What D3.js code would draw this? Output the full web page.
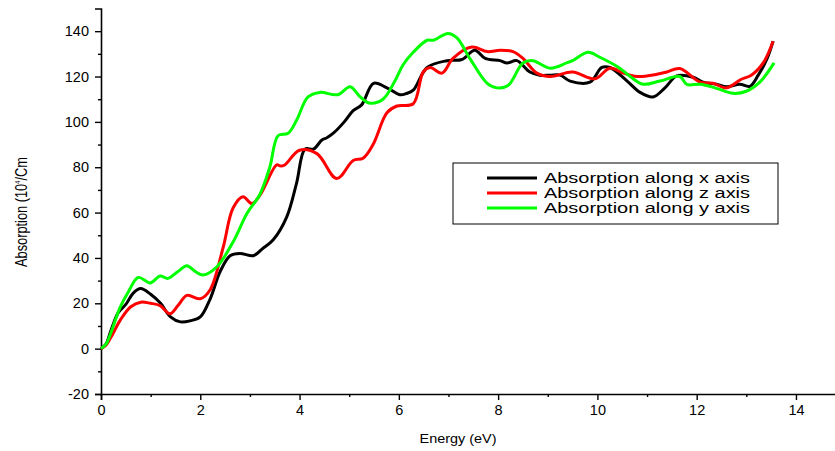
<!DOCTYPE html>
<html><head><meta charset="utf-8">
<script src="https://cdn.jsdelivr.net/npm/d3@7"></script>
<style>body{margin:0;background:#fff}svg{display:block}text{font-family:Arial,"Liberation Sans",sans-serif}</style>
</head><body>
<svg id="c" width="835" height="451"></svg>
<script>
const xAxisEnergy = [[0,0],[0.1,2],[0.2,8],[0.35,16],[0.5,19.5],[0.65,24.5],[0.8,26.5],[1.0,24],[1.2,20],[1.4,14],[1.6,11.8],[1.8,12.3],[2.0,14],[2.2,22],[2.4,34],[2.6,41],[2.8,42],[3.07,41],[3.25,44],[3.47,48],[3.74,58],[3.94,73],[4.11,88],[4.28,88],[4.45,92],[4.55,93],[4.68,95],[4.9,100],[5.08,105],[5.25,107.5],[5.49,117],[5.76,115],[6.02,112],[6.15,112.5],[6.29,114],[6.57,124],[6.97,127],[7.27,127.5],[7.53,131.6],[7.74,128],[8.04,127],[8.18,126],[8.38,127],[8.64,122],[8.84,120.6],[9.05,120.6],[9.25,120.6],[9.45,118],[9.85,117.5],[10.09,124],[10.25,124],[10.6,118],[10.86,113],[11.12,111],[11.36,115],[11.6,120.3],[11.93,119.7],[12.13,117.5],[12.4,116.6],[12.6,115.5],[12.87,116.6],[13.07,115.7],[13.24,120.6],[13.42,128],[13.54,135.6]];
const zAxisEnergy = [[0,0],[0.1,1.5],[0.2,5],[0.4,13],[0.6,18.5],[0.8,20.5],[1.0,20],[1.19,19],[1.39,15.4],[1.55,19],[1.73,23.5],[2.0,22],[2.2,26],[2.46,44.6],[2.66,62],[2.86,67],[3.04,64],[3.2,67.6],[3.54,81],[3.62,80.5],[3.7,81],[4.0,87.5],[4.35,86],[4.75,75],[5.08,83],[5.28,84],[5.48,90],[5.76,104],[5.96,107],[6.29,108],[6.49,122],[6.63,124],[6.87,121.5],[7.09,128],[7.47,133],[7.78,131],[8.04,131.6],[8.3,131],[8.5,128],[8.78,121.5],[9.05,120],[9.5,122],[9.95,119],[10.25,123.7],[10.52,121.5],[10.8,120],[11.2,121],[11.4,122],[11.66,123.5],[12.07,117.5],[12.33,117],[12.6,115],[12.9,118.8],[13.1,120.6],[13.34,126],[13.54,135.6]];
const yAxisEnergy = [[0,0],[0.1,2],[0.2,7],[0.38,18],[0.55,25],[0.75,31.4],[0.99,29],[1.19,32],[1.35,31],[1.55,34],[1.73,36.6],[1.9,34],[2.06,32.5],[2.33,36],[2.66,47],[2.94,59.6],[3.2,68],[3.4,80],[3.57,94],[3.77,95],[3.94,100.7],[4.17,111],[4.41,113],[4.77,112],[5.02,115.5],[5.2,111.5],[5.4,108.3],[5.68,110],[5.92,118],[6.08,125],[6.29,130.7],[6.57,136],[6.69,136],[6.99,139],[7.17,137],[7.43,128],[7.78,117],[7.98,115],[8.2,116],[8.5,126],[8.7,127],[9.05,123.7],[9.38,126],[9.5,127],[9.81,130.7],[10.05,128.5],[10.45,123.7],[10.66,120],[10.92,116.6],[11.26,118],[11.66,120],[11.8,116.5],[12.07,116.6],[12.4,114.8],[12.73,112.6],[13.0,113.5],[13.27,117.5],[13.56,126]];
const seriesNames = ["Absorption along x axis","Absorption along z axis","Absorption along y axis"];
const seriesColors = ["#000000","#ff0000","#00ff00"];
const xTicks = [0,2,4,6,8,10,12,14];
const yTicks = [-20,0,20,40,60,80,100,120,140];

const svg = d3.select("#c");
const x = d3.scaleLinear().domain([0,15]).range([101, 101+15*49.64]);
const y = d3.scaleLinear().domain([-20,150]).range([394, 8.5]);
const fmt = d => String(d);

// y axis
const yAx = svg.append("g").attr("transform","translate(101,0)")
  .call(d3.axisLeft(y).tickValues(yTicks).tickSize(6).tickPadding(6).tickFormat(fmt));
yAx.selectAll(".tick text").attr("font-size",14.5).attr("fill","#000");
svg.append("g").attr("transform","translate(101,0)")
  .call(d3.axisLeft(y).tickValues(d3.range(-10,150,20)).tickSize(3).tickFormat(""))
  .select(".domain").remove();
// x axis
const xAx = svg.append("g").attr("transform","translate(0,394)")
  .call(d3.axisBottom(x).tickValues(xTicks).tickSize(6).tickPadding(5).tickFormat(fmt));
xAx.selectAll(".tick text").attr("font-size",14.5).attr("fill","#000");
svg.append("g").attr("transform","translate(0,394)")
  .call(d3.axisBottom(x).tickValues(d3.range(1,15,2)).tickSize(3).tickFormat(""))
  .select(".domain").remove();
svg.selectAll(".domain").attr("stroke","#000").attr("stroke-width",1.6);
svg.selectAll(".tick line").attr("stroke","#000").attr("stroke-width",1.4);

// lines
const line = d3.line().x(d=>x(d[0])).y(d=>y(d[1])).curve(d3.curveCatmullRom.alpha(0.5));
[xAxisEnergy,zAxisEnergy,yAxisEnergy].forEach((s,i)=>{
  svg.append("path").datum(s).attr("d",line).attr("fill","none")
    .attr("stroke",seriesColors[i]).attr("stroke-width",3).attr("stroke-linejoin","round");
});

// legend
const lg = svg.append("g");
lg.append("rect").attr("x",453).attr("y",163).attr("width",325).attr("height",61)
  .attr("fill","#fff").attr("stroke","#000").attr("stroke-width",1);
seriesNames.forEach((n,i)=>{
  const yy = 178 + i*15;
  lg.append("line").attr("x1",487).attr("x2",537).attr("y1",yy).attr("y2",yy)
    .attr("stroke",seriesColors[i]).attr("stroke-width",3);
  lg.append("text").attr("x",544).attr("y",yy+5).attr("font-size",14)
    .attr("textLength",206).attr("lengthAdjust","spacingAndGlyphs").text(n);
});

// axis titles
svg.append("text").attr("x",458).attr("y",443).attr("text-anchor","middle").attr("font-size",13.5)
  .attr("textLength",77).attr("lengthAdjust","spacingAndGlyphs").text("Energy (eV)");
const ylg = svg.append("g").attr("transform","translate(27,212) rotate(-90)");
const yl = ylg.append("text").attr("font-size",17);
yl.append("tspan").text("Absorption (10");
yl.append("tspan").attr("font-size",8).attr("dy",-7).text("4");
yl.append("tspan").attr("dy",7).text("/Cm");
const w = yl.node().getComputedTextLength();
const sx = 110 / w;
yl.attr("transform",`scale(${sx},1) translate(${-w/2},0)`);
</script>
</body></html>
